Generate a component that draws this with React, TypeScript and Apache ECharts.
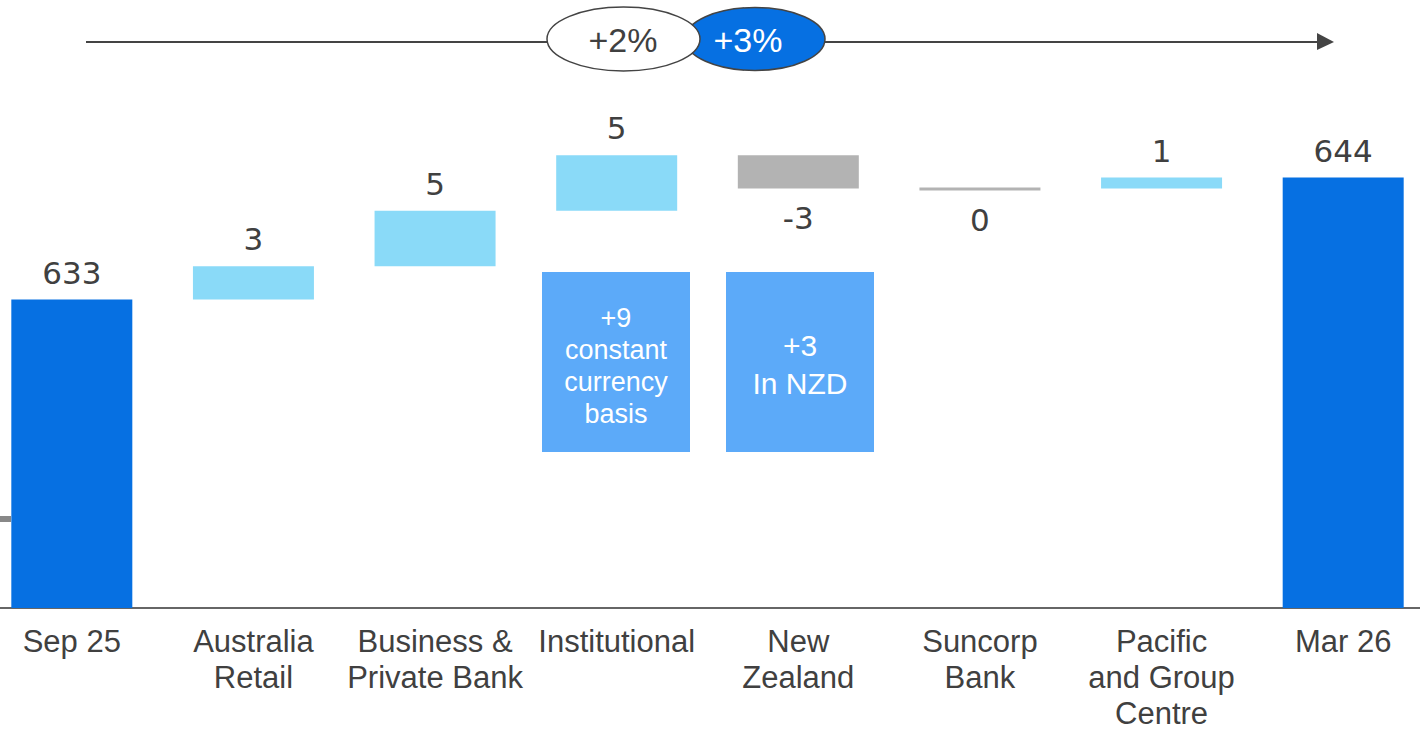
import React, { useEffect, useRef } from "react";
import * as echarts from "echarts";

const categories = [
  "Sep 25",
  "Australia\nRetail",
  "Business &\nPrivate Bank",
  "Institutional",
  "New\nZealand",
  "Suncorp\nBank",
  "Pacific\nand Group\nCentre",
  "Mar 26",
];
const openingTotal = 633;
const closingTotal = 644;
const changes = [3, 5, 5, -3, 0, 1];
const axisMin = 605.2;
const axisMax = 660;

const headlineLeft = "+2%";
const headlineRight = "+3%";
const institutionalNote = "+9\nconstant\ncurrency\nbasis";
const nzNote = "+3\nIn NZD";

const DARK_BLUE = "#0670E2";
const LIGHT_BLUE = "#8ADAF8";
const GREY = "#B3B3B3";
const BOX_BLUE = "#5CAAF9";
const TEXT = "#404040";

// the chart canvas starts 19px left of the page so the first band is cut like the original
const OX = 19;
const CANVAS_W = 1453;

export default function App() {
  const ref = useRef<HTMLDivElement>(null);

  useEffect(() => {
    if (!ref.current) return;
    const chart = echarts.init(ref.current, null, { renderer: "svg" });

    const rows: any[] = [];
    rows.push([0, axisMin, openingTotal, 0, String(openingTotal)]);
    let run = openingTotal;
    changes.forEach((c, k) => {
      const s = run;
      const e = run + c;
      rows.push([k + 1, s, e, c > 0 ? 1 : 2, String(c)]);
      run = e;
    });
    rows.push([categories.length - 1, axisMin, closingTotal, 0, String(closingTotal)]);

    const valueFont = "DejaVu Sans";

    const option: any = {
      animation: false,
      grid: {
        left: 0,
        width: CANVAS_W,
        top: 0,
        height: 608,
        containLabel: false,
        outerBoundsMode: "none",
      },
      xAxis: {
        type: "category",
        data: categories,
        axisTick: { show: false },
        axisLine: { show: true, lineStyle: { color: "#666666", width: 2 } },
        axisLabel: {
          interval: 0,
          margin: 15,
          fontSize: 31,
          lineHeight: 36,
          color: TEXT,
          fontFamily: "Liberation Sans",
        },
        splitLine: { show: false },
      },
      yAxis: {
        type: "value",
        min: axisMin,
        max: axisMax,
        show: false,
        splitLine: { show: false },
      },
      series: [
        {
          type: "custom",
          data: rows,
          encode: { x: 0, y: [1, 2] },
          renderItem: (params: any, api: any) => {
            const i = api.value(0);
            const s = api.value(1);
            const e = api.value(2);
            const kind = api.value(3);
            const label = rows[params.dataIndex][4];
            const p1 = api.coord([i, s]);
            const p2 = api.coord([i, e]);
            const w = 121;
            let top = Math.min(p1[1], p2[1]);
            let h = Math.abs(p1[1] - p2[1]);
            if (h < 2.5) {
              top = top - 1;
              h = 3;
            }
            const color = kind === 0 ? DARK_BLUE : kind === 1 ? LIGHT_BLUE : GREY;
            const up = kind !== 2;
            const ly = up ? top - 27 : top + h + 29;
            return {
              type: "group",
              children: [
                {
                  type: "rect",
                  shape: { x: p1[0] - w / 2, y: top, width: w, height: h },
                  style: { fill: color },
                },
                {
                  type: "text",
                  style: {
                    text: label,
                    x: p1[0],
                    y: ly,
                    align: "center",
                    verticalAlign: "middle",
                    fontSize: 31,
                    fontFamily: valueFont,
                    fill: TEXT,
                  },
                },
              ],
            };
          },
        },
      ],
      graphic: [
        {
          type: "line",
          shape: { x1: 86 + OX, y1: 42, x2: 1320 + OX, y2: 42 },
          style: { stroke: "#444444", lineWidth: 2 },
        },
        {
          type: "polygon",
          shape: { points: [[1317 + OX, 33], [1334 + OX, 42], [1317 + OX, 50]] },
          style: { fill: "#444444" },
        },
        {
          type: "ellipse",
          shape: { cx: 755 + OX, cy: 39, rx: 70, ry: 31.5 },
          style: { fill: DARK_BLUE, stroke: "#444444", lineWidth: 1.5 },
        },
        {
          type: "ellipse",
          shape: { cx: 623.5 + OX, cy: 39, rx: 76.5, ry: 32 },
          style: { fill: "#ffffff", stroke: "#444444", lineWidth: 1.5 },
        },
        {
          type: "text",
          style: {
            text: headlineLeft,
            x: 623 + OX,
            y: 40,
            align: "center",
            verticalAlign: "middle",
            fontSize: 34,
            fontFamily: "Liberation Sans",
            fill: TEXT,
          },
        },
        {
          type: "text",
          style: {
            text: headlineRight,
            x: 748 + OX,
            y: 40,
            align: "center",
            verticalAlign: "middle",
            fontSize: 34,
            fontFamily: "Liberation Sans",
            fill: "#ffffff",
          },
        },
        {
          type: "rect",
          shape: { x: 0 + OX, y: 516, width: 11, height: 6 },
          style: { fill: "#888888" },
        },
        {
          type: "rect",
          shape: { x: 542 + OX, y: 272, width: 148, height: 180 },
          style: { fill: BOX_BLUE },
        },
        {
          type: "text",
          style: {
            text: institutionalNote,
            x: 616 + OX,
            y: 366,
            align: "center",
            verticalAlign: "middle",
            fontSize: 27,
            lineHeight: 32,
            fontFamily: "Liberation Sans",
            fill: "#ffffff",
          },
        },
        {
          type: "rect",
          shape: { x: 726 + OX, y: 272, width: 148, height: 180 },
          style: { fill: BOX_BLUE },
        },
        {
          type: "text",
          style: {
            text: nzNote,
            x: 800 + OX,
            y: 364,
            align: "center",
            verticalAlign: "middle",
            fontSize: 30,
            lineHeight: 38,
            fontFamily: "Liberation Sans",
            fill: "#ffffff",
          },
        },
      ],
    };

    chart.setOption(option);
    return () => chart.dispose();
  }, []);

  return (
    <div
      ref={ref}
      style={{
        position: "fixed",
        left: -OX,
        top: 0,
        width: CANVAS_W,
        height: 731,
        background: "#ffffff",
      }}
    />
  );
}
